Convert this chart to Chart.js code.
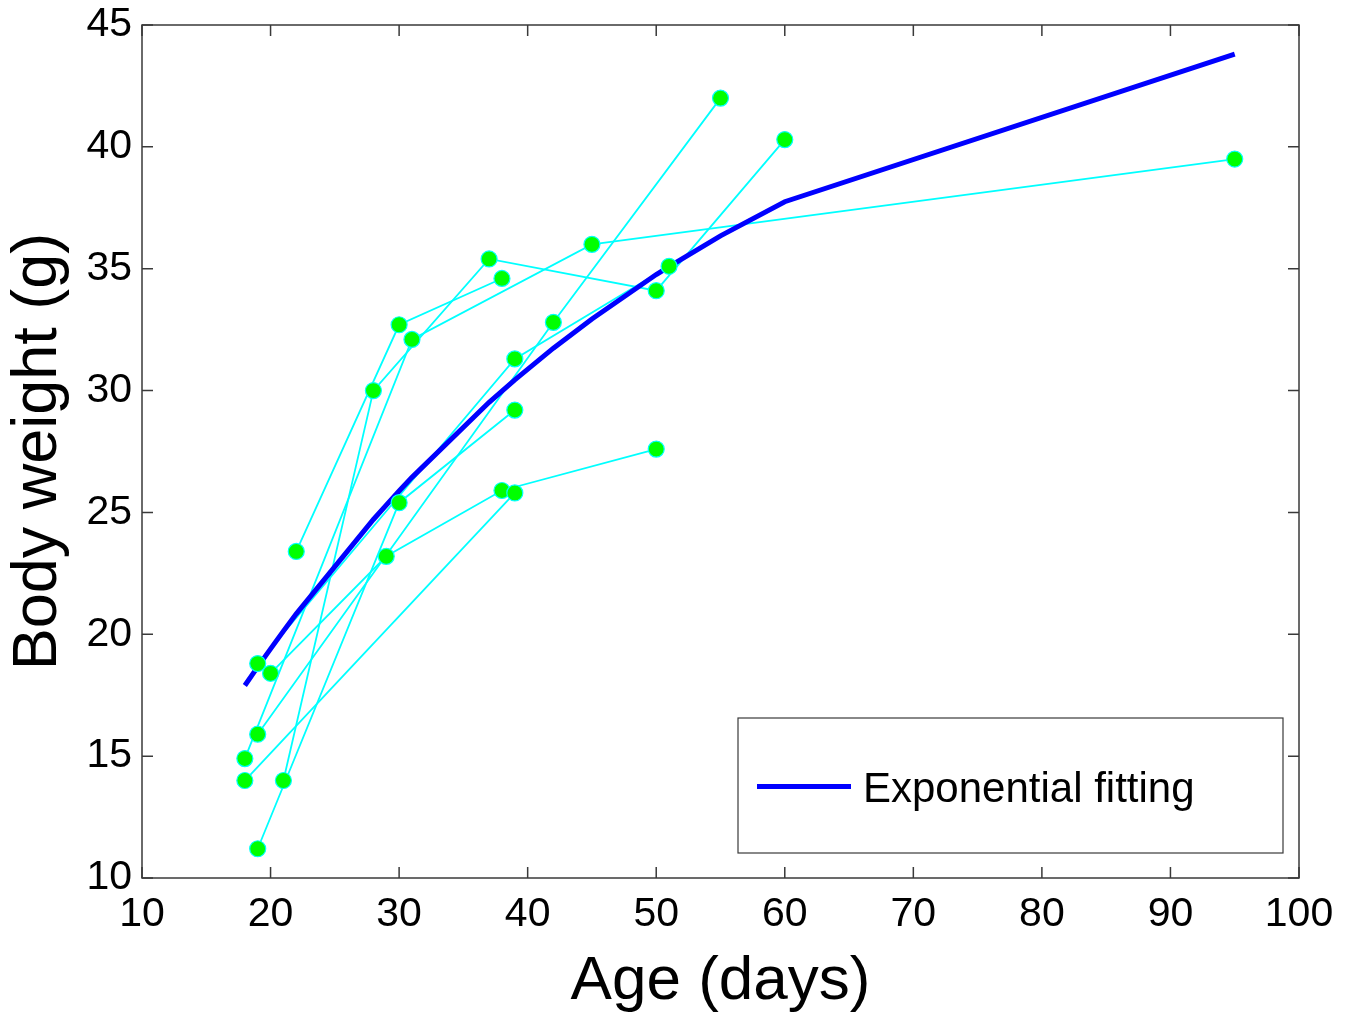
<!DOCTYPE html>
<html>
<head>
<meta charset="utf-8">
<script src="https://cdn.jsdelivr.net/npm/chart.js@4.4.0/dist/chart.umd.min.js"></script>
<style>
html,body{margin:0;padding:0;background:#ffffff;overflow:hidden}
canvas{display:block}
</style>
</head>
<body>
<canvas id="c" width="1353" height="1019"></canvas>
<script>
// ---- data ----
const xTickValues = [10, 20, 30, 40, 50, 60, 70, 80, 90, 100];
const yTickValues = [10, 15, 20, 25, 30, 35, 40, 45];

// individual mice (age in days, body weight in g)
const mouse1Age = [22, 30, 38];
const mouse1Weight = [23.4, 32.7, 34.6];
const mouse2Age = [21, 28, 37, 50, 60];
const mouse2Weight = [14.0, 30.0, 35.4, 34.1, 40.3];
const mouse3Age = [18, 31, 45, 95];
const mouse3Weight = [14.9, 32.1, 36.0, 39.5];
const mouse4Age = [19, 42, 55];
const mouse4Weight = [15.9, 32.8, 42.0];
const mouse5Age = [18, 39];
const mouse5Weight = [14.0, 25.8];
const mouse6Age = [20, 29, 38, 50];
const mouse6Weight = [18.4, 23.2, 25.9, 27.6];
const mouse7Age = [19, 30, 39];
const mouse7Weight = [11.2, 25.4, 29.2];
const mouse8Age = [19, 39, 51];
const mouse8Weight = [18.8, 31.3, 35.1];

// exponential fitting curve, sampled at the observed ages
const fitAge = [18, 19, 20, 21, 22, 28, 29, 30, 31, 37, 38, 39, 42, 45, 50, 51, 55, 60, 95];
const fitWeight = [17.9, 18.66, 19.4, 20.13, 20.84, 24.71, 25.3, 25.88, 26.44, 29.52, 29.98, 30.44, 31.74, 32.94, 34.76, 35.09, 36.35, 37.75, 43.8];
const fitLabel = 'Exponential fitting';

const xTitle = 'Age (days)';
const yTitle = 'Body weight (g)';

// ---- build chart ----
const mice = [
  [mouse1Age, mouse1Weight], [mouse2Age, mouse2Weight], [mouse3Age, mouse3Weight],
  [mouse4Age, mouse4Weight], [mouse5Age, mouse5Weight], [mouse6Age, mouse6Weight],
  [mouse7Age, mouse7Weight], [mouse8Age, mouse8Weight]
];
const toXY = (a, w) => a.map((v, i) => ({x: v, y: w[i]}));

const FONT = "'Liberation Sans', Arial, Helvetica, sans-serif";
const datasets = [];
mice.forEach(([a, w], i) => {
  datasets.push({
    label: 'mouse ' + (i + 1),
    data: toXY(a, w),
    showLine: true,
    borderColor: '#00ffff',
    borderWidth: 1.8,
    pointRadius: 0,
    order: 3
  });
});
datasets.push({
  label: fitLabel,
  data: toXY(fitAge, fitWeight),
  showLine: true,
  borderColor: '#0000ff',
  borderWidth: 5,
  pointRadius: 0,
  order: 2,
  isFit: true
});
mice.forEach(([a, w], i) => {
  datasets.push({
    label: 'mouse ' + (i + 1) + ' points',
    data: toXY(a, w),
    showLine: false,
    pointRadius: 8,
    pointBackgroundColor: '#00ff00',
    pointBorderColor: '#00ffff',
    pointBorderWidth: 1.2,
    order: 1
  });
});

const framePlugin = {
  id: 'frame',
  afterDatasetsDraw(chart) {
    const {ctx, chartArea: ca, scales} = chart;
    ctx.save();
    ctx.strokeStyle = '#3a3a3a';
    ctx.lineWidth = 1.5;
    ctx.strokeRect(ca.left, ca.top, ca.right - ca.left, ca.bottom - ca.top);
    const tl = 11;
    ctx.beginPath();
    xTickValues.forEach(v => {
      const px = scales.x.getPixelForValue(v);
      ctx.moveTo(px, ca.bottom); ctx.lineTo(px, ca.bottom - tl);
      ctx.moveTo(px, ca.top); ctx.lineTo(px, ca.top + tl);
    });
    yTickValues.forEach(v => {
      const py = scales.y.getPixelForValue(v);
      ctx.moveTo(ca.left, py); ctx.lineTo(ca.left + tl, py);
      ctx.moveTo(ca.right, py); ctx.lineTo(ca.right - tl, py);
    });
    ctx.stroke();

    // legend box inside the plot (bottom right)
    const fit = chart.data.datasets.find(d => d.isFit);
    const w = 545, h = 135;
    const lx = ca.right - 16 - w, ly = ca.bottom - 25 - h;
    ctx.fillStyle = '#ffffff';
    ctx.fillRect(lx, ly, w, h);
    ctx.strokeStyle = '#3a3a3a';
    ctx.lineWidth = 1.2;
    ctx.strokeRect(lx, ly, w, h);
    const cy = ly + h / 2;
    ctx.strokeStyle = fit.borderColor;
    ctx.lineWidth = fit.borderWidth;
    ctx.beginPath();
    ctx.moveTo(lx + 19, cy + 1); ctx.lineTo(lx + 113, cy + 1);
    ctx.stroke();
    ctx.fillStyle = '#000000';
    ctx.font = '42px ' + FONT;
    ctx.textAlign = 'left';
    ctx.textBaseline = 'middle';
    ctx.fillText(fit.label, lx + 125, cy + 5);
    ctx.restore();
  }
};

new Chart(document.getElementById('c'), {
  type: 'scatter',
  data: {datasets},
  plugins: [framePlugin],
  options: {
    responsive: false,
    animation: false,
    devicePixelRatio: 1,
    layout: {padding: {top: 25, right: 54, left: 0, bottom: 0}},
    plugins: {legend: {display: false}, tooltip: {enabled: false}},
    elements: {line: {tension: 0, borderCapStyle: 'butt'}},
    scales: {
      x: {
        type: 'linear', min: 10, max: 100,
        afterBuildTicks: s => { s.ticks = xTickValues.map(v => ({value: v})); },
        afterFit: s => { s.height = 141; s.paddingLeft = 0; s.paddingRight = 0; },
        ticks: {font: {family: FONT, size: 41}, color: '#000', padding: 12, maxRotation: 0, autoSkip: false},
        grid: {display: false, drawTicks: false, drawOnChartArea: false},
        border: {display: false},
        title: {display: true, text: xTitle, color: '#000', font: {family: FONT, size: 62}, padding: {top: -3, bottom: 0}}
      },
      y: {
        type: 'linear', min: 10, max: 45,
        afterBuildTicks: s => { s.ticks = yTickValues.map(v => ({value: v})); },
        afterFit: s => { s.width = 142; s.paddingTop = 0; s.paddingBottom = 0; },
        ticks: {font: {family: FONT, size: 41}, color: '#000', padding: 10, autoSkip: false},
        grid: {display: false, drawTicks: false, drawOnChartArea: false},
        border: {display: false},
        title: {display: true, text: yTitle, color: '#000', font: {family: FONT, size: 63}, padding: {top: 1, bottom: 0}}
      }
    }
  }
});
</script>
</body>
</html>
